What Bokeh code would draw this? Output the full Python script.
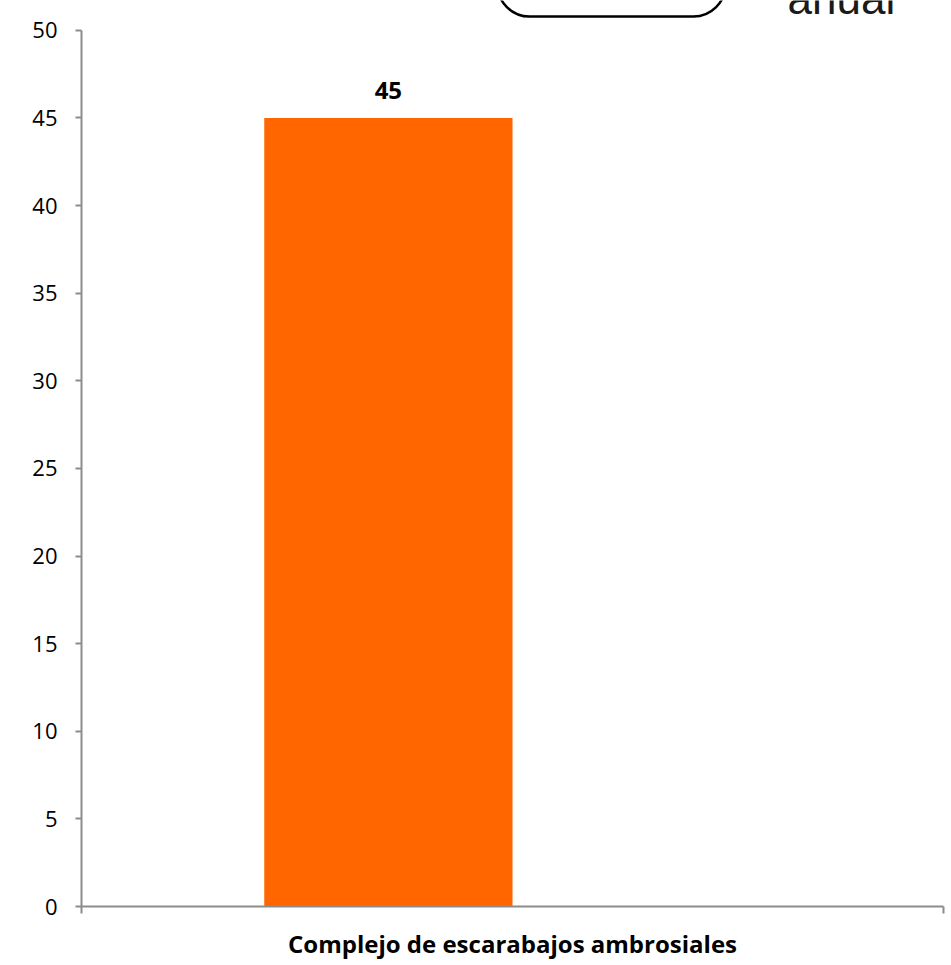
from bokeh.plotting import figure
from bokeh.models import (FactorRange, Range1d, LinearAxis, CategoricalAxis, FixedTicker,
                          ColumnDataSource, LabelSet, BoxAnnotation, Label,
                          CustomJSTickFormatter)
from bokeh.core.properties import value
from bokeh.transform import dodge
from bokeh.embed import file_html
from bokeh.resources import INLINE

# ---- data ----
categories = ["Complejo de escarabajos ambrosiales"]
values = [45]
value_labels = ["45"]
y_ticks = [0, 5, 10, 15, 20, 25, 30, 35, 40, 45, 50]
y_max = 50
header_word = "anual"

FONT = "Open Sans"
AXIS_GRAY = "#8c8c8c"

# layout (pixels)
FRAME_BOTTOM = 913      # y pixel of value 0
AXIS_TOP = 30           # y pixel of value 50
y_end = y_max * FRAME_BOTTOM / (FRAME_BOTTOM - AXIS_TOP)  # frame reaches the top edge

src = ColumnDataSource(dict(cat=categories, val=values, lab=value_labels))

p = figure(width=948, height=962, output_backend="svg", toolbar_location=None,
           x_range=FactorRange(factors=categories, range_padding=0),
           y_range=Range1d(0, y_end), x_axis_location=None, y_axis_location=None,
           min_border_left=81, min_border_right=5, min_border_top=0,
           min_border_bottom=962 - FRAME_BOTTOM)
p.outline_line_color = None
p.xgrid.visible = False
p.ygrid.visible = False
p.background_fill_color = "white"
p.border_fill_color = "white"

# y axis
yax = LinearAxis(ticker=FixedTicker(ticks=y_ticks), bounds=(0, y_max))
yax.axis_line_color = AXIS_GRAY
yax.axis_line_width = 2
yax.major_tick_line_color = AXIS_GRAY
yax.major_tick_line_width = 2
yax.major_tick_in = 0
yax.major_tick_out = 6
yax.minor_tick_line_color = None
yax.major_label_text_font = FONT
yax.major_label_text_font_size = "22px"
yax.major_label_text_color = "black"
yax.major_label_standoff = 18
p.add_layout(yax, "left")

# x axis line with ticks at the category-slot boundaries (synthetic coords 0 and 1)
xedge = LinearAxis(ticker=FixedTicker(ticks=[0, 1]),
                   formatter=CustomJSTickFormatter(code="return ''"))
xedge.axis_line_color = AXIS_GRAY
xedge.axis_line_width = 2
xedge.major_tick_line_color = AXIS_GRAY
xedge.major_tick_line_width = 2
xedge.major_tick_in = 0
xedge.major_tick_out = 7
xedge.minor_tick_line_color = None
xedge.major_label_text_font_size = "1px"
xedge.major_label_standoff = 0
p.add_layout(xedge, "below")

# category axis
xcat = CategoricalAxis()
xcat.axis_line_color = None
xcat.major_tick_line_color = None
xcat.major_label_text_font = FONT
xcat.major_label_text_font_style = "bold"
xcat.major_label_text_font_size = "24px"
xcat.major_label_text_color = "black"
xcat.major_label_standoff = 7
p.add_layout(xcat, "below")

# bar (first series of a two-slot cluster)
p.vbar(x=dodge("cat", -0.144, range=p.x_range), top="val", width=0.288, source=src,
       fill_color="#FF6600", line_color=None)

labels = LabelSet(x=dodge("cat", -0.144, range=p.x_range), y="val", text="lab", source=src,
                  text_align="center", text_baseline="bottom", y_offset=19,
                  text_font=value(FONT), text_font_style="bold", text_font_size="24px",
                  text_color="black")
p.add_layout(labels)

# decorative fragments cut off at the top edge
box = BoxAnnotation(left=497, right=725, top=-60, bottom=16,
                    left_units="canvas", right_units="canvas",
                    top_units="canvas", bottom_units="canvas",
                    fill_color=None, line_color="black", line_alpha=1.0, line_width=2.5,
                    border_radius=32)
p.add_layout(box)
p.add_layout(Label(x=787, y=-2, x_units="canvas", y_units="canvas", text=header_word,
                   text_font="Liberation Sans", text_font_size="44px", text_color="#1a1a1a",
                   text_baseline="alphabetic"))

open("out.html", "w").write(file_html(p, INLINE))
